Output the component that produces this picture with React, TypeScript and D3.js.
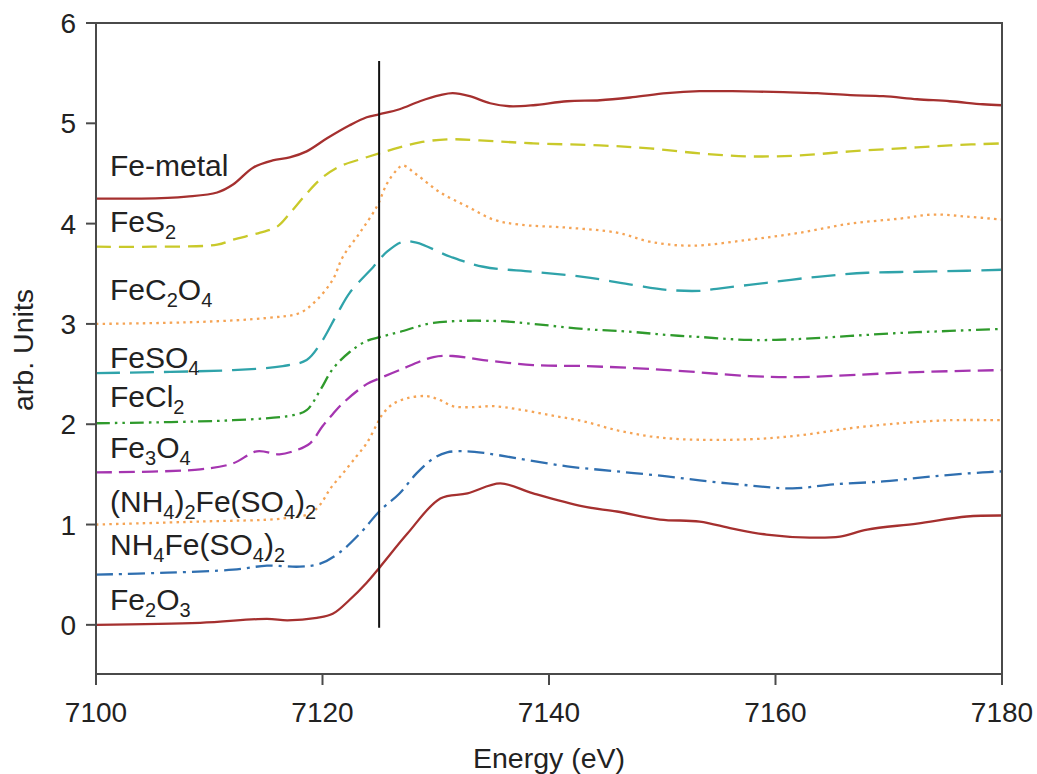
import React, { useEffect, useRef } from "react";
import * as d3 from "d3";

// XANES spectra of iron reference compounds, vertically offset (energy in eV, normalised absorption)
const feMetal: [number, number][] = [
  [7100, 4.25], [7104, 4.25], [7108, 4.27], [7110.7, 4.31], [7112.1, 4.39], [7113.9, 4.56],
  [7115.6, 4.63], [7117.1, 4.66], [7118.6, 4.72], [7120.4, 4.85], [7122.4, 4.98], [7123.9, 5.06],
  [7125, 5.09], [7126.8, 5.14], [7128.6, 5.22], [7130.4, 5.28], [7131.5, 5.3], [7133, 5.27],
  [7134.8, 5.2], [7136.5, 5.17], [7138.6, 5.18], [7141.6, 5.22], [7144.5, 5.23], [7147.4, 5.26],
  [7150.4, 5.3], [7153.3, 5.32], [7156.2, 5.32], [7160.7, 5.31], [7163.7, 5.3], [7166.6, 5.28],
  [7169.5, 5.27], [7172.5, 5.24], [7175.4, 5.22], [7178.3, 5.19], [7180, 5.18],
];

const feS2: [number, number][] = [
  [7100, 3.77], [7105, 3.77], [7110.7, 3.79], [7112.1, 3.84], [7114.5, 3.91], [7116, 3.97],
  [7117.1, 4.1], [7118.6, 4.3], [7120, 4.46], [7121.5, 4.57], [7123.3, 4.64], [7125, 4.7],
  [7126.8, 4.76], [7128.6, 4.81], [7131, 4.84], [7133.9, 4.83], [7138.6, 4.8], [7144.5, 4.78],
  [7148.9, 4.75], [7153.3, 4.7], [7157.7, 4.67], [7162.2, 4.68], [7166.6, 4.72], [7171, 4.75],
  [7175.4, 4.78], [7180, 4.8],
];

const feC2O4: [number, number][] = [
  [7100, 3.0], [7109.2, 3.02], [7115.1, 3.06], [7118, 3.11], [7119.5, 3.24], [7120.9, 3.44],
  [7121.8, 3.67], [7123.3, 3.91], [7124.8, 4.17], [7125.7, 4.4], [7126.6, 4.54], [7127.1, 4.58],
  [7128.3, 4.49], [7130.4, 4.31], [7132.8, 4.17], [7135.1, 4.04], [7137.4, 3.99], [7141.6, 3.96],
  [7146, 3.91], [7148.9, 3.82], [7152.5, 3.78], [7157.7, 3.84], [7162.2, 3.91], [7166.6, 4.0],
  [7171, 4.05], [7173.9, 4.09], [7176.9, 4.07], [7180, 4.04],
];

const feSO4: [number, number][] = [
  [7100, 2.51], [7112.1, 2.54], [7116.5, 2.58], [7118.6, 2.64], [7119.8, 2.8], [7121.3, 3.1],
  [7122.4, 3.31], [7124.5, 3.57], [7125.7, 3.72], [7127.1, 3.82], [7128.3, 3.81], [7131.3, 3.67],
  [7134.2, 3.57], [7138.6, 3.52], [7143, 3.47], [7147.4, 3.39], [7150.4, 3.34], [7153.3, 3.33],
  [7154.8, 3.35], [7159.2, 3.41], [7163.7, 3.47], [7168.1, 3.51], [7172.5, 3.52], [7176.9, 3.53],
  [7180, 3.54],
];

const feCl2: [number, number][] = [
  [7100, 2.01], [7112.1, 2.04], [7117.4, 2.09], [7118.6, 2.14], [7119.8, 2.34], [7120.9, 2.55],
  [7122.4, 2.72], [7123.9, 2.83], [7125.1, 2.87], [7126.8, 2.92], [7129.8, 3.01], [7135.1, 3.03],
  [7138.6, 3.0], [7143, 2.95], [7147.4, 2.92], [7150.4, 2.89], [7153.3, 2.87], [7157.7, 2.84],
  [7162.2, 2.85], [7166.6, 2.88], [7171, 2.91], [7175.4, 2.93], [7180, 2.95],
];

const fe3O4: [number, number][] = [
  [7100, 1.52], [7109.2, 1.55], [7112.1, 1.61], [7114.2, 1.73], [7116.2, 1.7], [7117.4, 1.73],
  [7118.9, 1.81], [7120, 1.98], [7120.9, 2.1], [7121.8, 2.21], [7123.9, 2.4], [7125.1, 2.46],
  [7126.8, 2.54], [7129.8, 2.67], [7131.5, 2.68], [7134.2, 2.64], [7138.6, 2.59], [7143, 2.58],
  [7147.4, 2.56], [7151.8, 2.53], [7157.7, 2.48], [7162.2, 2.47], [7166.6, 2.49], [7172.5, 2.52],
  [7180, 2.54],
];

const nh4_2FeSO4_2: [number, number][] = [
  [7100, 1.0], [7109.2, 1.03], [7116.5, 1.06], [7118.9, 1.11], [7119.8, 1.2], [7120.7, 1.36],
  [7121.8, 1.51], [7123, 1.68], [7123.9, 1.81], [7124.8, 2.0], [7125.3, 2.1], [7126.2, 2.2],
  [7127.5, 2.26], [7129.2, 2.28], [7130.4, 2.24], [7131.5, 2.18], [7133.3, 2.17], [7135.1, 2.18],
  [7137.2, 2.15], [7140.1, 2.09], [7143, 2.03], [7146, 1.94], [7148.9, 1.88], [7151.8, 1.85],
  [7157.7, 1.85], [7162.2, 1.89], [7166.6, 1.96], [7171, 2.01], [7175.4, 2.04], [7180, 2.04],
];

const nh4FeSO4_2: [number, number][] = [
  [7100, 0.5], [7106.3, 0.52], [7112.1, 0.55], [7115.1, 0.59], [7118, 0.58], [7119.8, 0.61],
  [7121.5, 0.72], [7123.3, 0.91], [7125.1, 1.14], [7126.8, 1.31], [7128.3, 1.51], [7129.8, 1.66],
  [7131, 1.72], [7132.8, 1.73], [7134.5, 1.71], [7137.2, 1.66], [7141.6, 1.58], [7146, 1.53],
  [7150.4, 1.48], [7153.3, 1.44], [7157.7, 1.39], [7161.5, 1.36], [7165.1, 1.4], [7169.5, 1.43],
  [7173.9, 1.48], [7178.3, 1.52], [7180, 1.53],
];

const fe2O3: [number, number][] = [
  [7100, 0.0], [7109.2, 0.02], [7115.1, 0.06], [7116.9, 0.045], [7119.5, 0.07], [7120.9, 0.11],
  [7122.4, 0.25], [7123.9, 0.42], [7125.1, 0.58], [7127.5, 0.91], [7130.4, 1.26], [7132.8, 1.31],
  [7135.7, 1.41], [7138.6, 1.31], [7143, 1.18], [7146, 1.13], [7149.8, 1.05], [7153.3, 1.03],
  [7156.2, 0.96], [7159.2, 0.9], [7163, 0.87], [7165.7, 0.88], [7168.1, 0.95], [7172.5, 1.01],
  [7176.9, 1.08], [7180, 1.09],
];

// compound names; "_x" marks a subscript character
const seriesNames = [
  "Fe-metal", "FeS_2", "FeC_2O_4", "FeSO_4", "FeCl_2", "Fe_3O_4",
  "(NH_4)_2Fe(SO_4)_2", "NH_4Fe(SO_4)_2", "Fe_2O_3",
];
const seriesData = [feMetal, feS2, feC2O4, feSO4, feCl2, fe3O4, nh4_2FeSO4_2, nh4FeSO4_2, fe2O3];

const xTicks = [7100, 7120, 7140, 7160, 7180];
const yTicks = [0, 1, 2, 3, 4, 5, 6];
const edgeEnergy = 7125;

// drawing styles per series
const styles = [
  { color: "#a5302f", dash: null },
  { color: "#c9c92a", dash: "15 8" },
  { color: "#f5a455", dash: "2.5 4.2" },
  { color: "#2fa3aa", dash: "24 10" },
  { color: "#2f9a2c", dash: "14 5 2.5 5 2.5 5" },
  { color: "#a535b0", dash: "16 7" },
  { color: "#f5a455", dash: "2.5 4.2" },
  { color: "#2f6fb0", dash: "17 6 3 6" },
  { color: "#a5302f", dash: null },
];
// label baselines, in data units
const labelBaselines = [4.47, 3.92, 3.24, 2.56, 2.17, 1.66, 1.13, 0.7, 0.15];

const W = 1037;
const H = 774;
const M = { left: 96, right: 1002, top: 23, bottom: 674 };
const FONT = "'Liberation Sans', Arial, Helvetica, sans-serif";

// split "Fe_2O_3" into runs of normal and subscript text
function splitFormula(name: string): { text: string; sub: boolean }[] {
  const runs: { text: string; sub: boolean }[] = [];
  let k = 0;
  while (k < name.length) {
    if (name[k] === "_" && k + 1 < name.length) {
      runs.push({ text: name[k + 1], sub: true });
      k += 2;
    } else {
      const last = runs[runs.length - 1];
      if (last && !last.sub) last.text += name[k];
      else runs.push({ text: name[k], sub: false });
      k += 1;
    }
  }
  return runs;
}

export default function App() {
  const ref = useRef<SVGSVGElement | null>(null);

  useEffect(() => {
    const svg = d3.select(ref.current);
    svg.selectAll("*").remove();

    const x = d3.scaleLinear().domain([7100, 7180]).range([M.left, M.right]);
    const y = d3.scaleLinear().domain([-0.49, 6]).range([M.bottom, M.top]);

    const line = d3
      .line<[number, number]>()
      .x((d) => x(d[0]))
      .y((d) => y(d[1]))
      .curve(d3.curveCatmullRom.alpha(0.5));

    const g = svg.append("g");

    // spectra
    seriesData.forEach((data, i) => {
      const p = g
        .append("path")
        .attr("d", line(data) as string)
        .attr("fill", "none")
        .attr("stroke", styles[i].color)
        .attr("stroke-width", 2.3)
        .attr("stroke-linejoin", "round");
      if (styles[i].dash) p.attr("stroke-dasharray", styles[i].dash as string);
    });

    // edge marker
    g.append("line")
      .attr("x1", x(edgeEnergy))
      .attr("x2", x(edgeEnergy))
      .attr("y1", y(-0.03))
      .attr("y2", y(5.62))
      .attr("stroke", "#111")
      .attr("stroke-width", 2);

    // frame
    g.append("rect")
      .attr("x", M.left)
      .attr("y", M.top)
      .attr("width", M.right - M.left)
      .attr("height", M.bottom - M.top)
      .attr("fill", "none")
      .attr("stroke", "#4a4a4a")
      .attr("stroke-width", 2);

    // x ticks
    xTicks.forEach((t) => {
      g.append("line")
        .attr("x1", x(t)).attr("x2", x(t))
        .attr("y1", M.bottom).attr("y2", M.bottom + 11)
        .attr("stroke", "#4a4a4a").attr("stroke-width", 2);
      g.append("text")
        .attr("x", x(t)).attr("y", 722)
        .attr("text-anchor", "middle")
        .attr("font-family", FONT).attr("font-size", 28).attr("fill", "#222")
        .text(String(t));
    });

    // y ticks
    yTicks.forEach((t) => {
      g.append("line")
        .attr("x1", M.left - 10).attr("x2", M.left)
        .attr("y1", y(t)).attr("y2", y(t))
        .attr("stroke", "#4a4a4a").attr("stroke-width", 2);
      g.append("text")
        .attr("x", 76).attr("y", y(t) + 10)
        .attr("text-anchor", "end")
        .attr("font-family", FONT).attr("font-size", 28).attr("fill", "#222")
        .text(String(t));
    });

    // axis titles
    g.append("text")
      .attr("x", 549).attr("y", 768)
      .attr("text-anchor", "middle")
      .attr("font-family", FONT).attr("font-size", 28.5).attr("fill", "#222")
      .text("Energy (eV)");
    g.append("text")
      .attr("transform", `translate(33,350) rotate(-90)`)
      .attr("text-anchor", "middle")
      .attr("font-family", FONT).attr("font-size", 28.5).attr("fill", "#222")
      .text("arb. Units");

    // compound labels with subscripts
    seriesNames.forEach((name, i) => {
      const txt = g
        .append("text")
        .attr("x", 110)
        .attr("y", y(labelBaselines[i]))
        .attr("font-family", FONT)
        .attr("font-size", 30)
        .attr("fill", "#222");
      let prevSub = false;
      splitFormula(name).forEach((run) => {
        const ts = txt.append("tspan").text(run.text);
        if (run.sub) {
          ts.attr("font-size", 20);
          if (!prevSub) ts.attr("dy", 7);
        } else if (prevSub) {
          ts.attr("dy", -7);
        }
        prevSub = run.sub;
      });
    });
  }, []);

  return (
    <svg
      ref={ref}
      width={W}
      height={H}
      viewBox={`0 0 ${W} ${H}`}
      style={{ position: "absolute", left: 0, top: 0, background: "#fff" }}
    />
  );
}
